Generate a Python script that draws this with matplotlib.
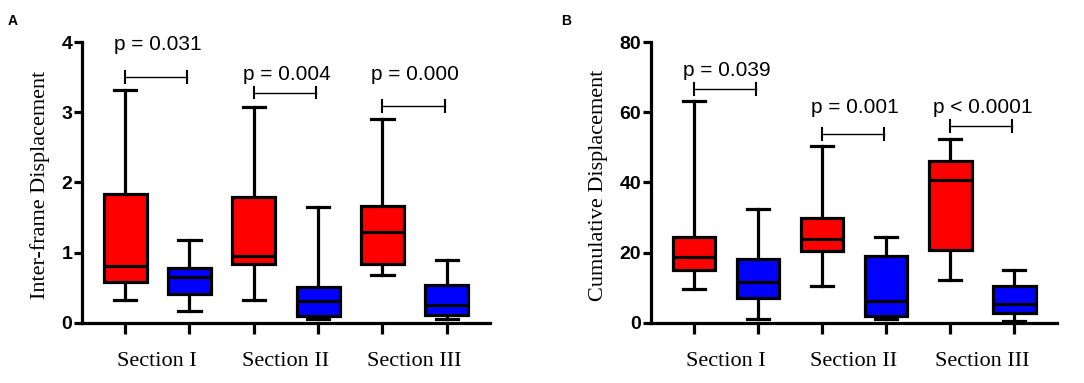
import numpy as np
import matplotlib
matplotlib.use("Agg")
import matplotlib.pyplot as plt

# ---------------- data ----------------
sections = ["Section I", "Section II", "Section III"]
box_colors = ["#FF0000", "#0000FF"] * 3

# panel A: inter-frame displacement (red / blue per section)
a_whishi = [3.31, 1.175, 3.08, 1.65, 2.90, 0.90]
a_q3 = [1.83, 0.78, 1.80, 0.51, 1.66, 0.545]
a_med = [0.815, 0.65, 0.96, 0.32, 1.29, 0.26]
a_q1 = [0.58, 0.41, 0.84, 0.10, 0.84, 0.12]
a_whislo = [0.33, 0.166, 0.33, 0.06, 0.69, 0.057]
a_pvals = ["p = 0.031", "p = 0.004", "p = 0.000"]
a_bracket_y = [3.50, 3.28, 3.09]
a_text_y = [3.89, 3.46, 3.46]

# panel B: cumulative displacement
b_whishi = [63.2, 32.5, 50.4, 24.6, 52.3, 15.1]
b_q3 = [24.4, 18.3, 30.0, 19.2, 46.1, 10.4]
b_med = [18.9, 11.8, 23.9, 6.3, 40.7, 5.4]
b_q1 = [15.0, 7.1, 20.4, 2.1, 20.8, 2.8]
b_whislo = [9.7, 1.1, 10.4, 1.2, 12.3, 0.5]
b_pvals = ["p = 0.039", "p = 0.001", "p < 0.0001"]
b_bracket_y = [66.6, 53.7, 56.1]
b_text_y = [70.3, 59.8, 59.8]

serif = "Liberation Serif"
sans = "Liberation Sans"


def draw_panel(ax, whishi, q3, med, q1, whislo, pvals, bracket_y, text_y,
               ymax, ylabel, label_x, panel_letter):
    stats = []
    for i in range(len(med)):
        stats.append(dict(med=med[i], q1=q1[i], q3=q3[i],
                          whislo=whislo[i], whishi=whishi[i], fliers=[]))
    pos = np.arange(len(med))
    bp = ax.bxp(stats, positions=pos, widths=0.67, patch_artist=True,
                showfliers=False,
                boxprops=dict(linewidth=2.3, edgecolor="black"),
                medianprops=dict(color="black", linewidth=2.3),
                whiskerprops=dict(color="black", linewidth=2.3),
                capprops=dict(color="black", linewidth=2.3),
                capwidths=0.35)
    for patch, c in zip(bp["boxes"], box_colors):
        patch.set_facecolor(c)

    ax.set_xlim(-0.67, 5.67)
    ax.set_ylim(0, ymax)
    ax.spines["top"].set_visible(False)
    ax.spines["right"].set_visible(False)
    ax.spines["left"].set_linewidth(2.3)
    ax.spines["bottom"].set_linewidth(2.3)

    ax.set_yticks(np.linspace(0, ymax, 5))
    ax.set_yticklabels([f"{v:g}" for v in np.linspace(0, ymax, 5)],
                       fontfamily=sans, fontweight="bold", fontsize=14)
    ax.tick_params(axis="y", length=6, width=2.3, pad=1)

    ax.set_xticks(pos)
    ax.set_xticklabels([""] * len(pos))
    ax.tick_params(axis="x", which="major", length=8, width=2.3)
    ax.set_xticks([0.5, 2.5, 4.5], minor=True)
    ax.set_xticklabels(sections, minor=True, fontfamily=serif, fontsize=16)
    ax.tick_params(axis="x", which="minor", length=0, pad=21)

    ax.text(label_x, 0.49, ylabel, transform=ax.transAxes, rotation=90,
            ha="center", va="center", fontfamily=serif, fontsize=16)

    for g in range(3):
        x0, x1 = 2 * g, 2 * g + 0.97
        y = bracket_y[g]
        ax.plot([x0, x1], [y, y], color="black", lw=1.0, clip_on=False)
        h = ymax * 0.021
        for xe in (x0, x1):
            ax.plot([xe, xe], [y - h, y + h], color="black", lw=1.5,
                    clip_on=False)
        ax.text(2 * g + 0.51, text_y[g], pvals[g], ha="center",
                va="baseline", fontfamily=sans, fontsize=15, clip_on=False)

    ax.text(panel_letter[0], panel_letter[1], panel_letter[2],
            transform=ax.figure.transFigure, fontfamily=sans,
            fontweight="bold", fontsize=10, ha="left", va="center")


fig = plt.figure(figsize=(10.84, 3.83), dpi=100)
ax_a = fig.add_axes([0.0756, 0.1567, 0.3764, 0.7336])
ax_b = fig.add_axes([0.6006, 0.1567, 0.3745, 0.7336])

draw_panel(ax_a, a_whishi, a_q3, a_med, a_q1, a_whislo, a_pvals,
           a_bracket_y, a_text_y, 4, "Inter-frame Displacement", -0.103,
           (0.007, 0.945, "A"))
draw_panel(ax_b, b_whishi, b_q3, b_med, b_q1, b_whislo, b_pvals,
           b_bracket_y, b_text_y, 80, "Cumulative Displacement", -0.13,
           (0.518, 0.945, "B"))

fig.savefig("out.png", dpi=100)
